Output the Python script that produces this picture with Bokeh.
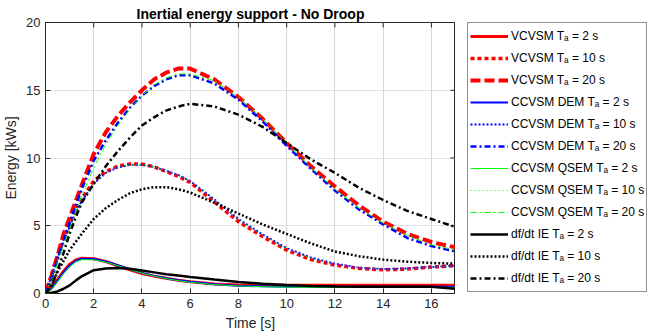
import math
from bokeh.plotting import figure
from bokeh.layouts import row
from bokeh.models import Range1d, Legend, LegendItem, FixedTicker
from bokeh.embed import file_html
from bokeh.resources import INLINE

# ---- data ----
t = [0, 0.25, 0.5, 0.75, 1, 1.25, 1.5, 2, 2.5, 3, 3.5, 4, 4.5, 5, 5.5, 6,
     7, 8, 9, 10, 11, 12, 13, 14, 15, 16, 17]

vcvsm_2 = [0, 0.45, 1.05, 1.65, 2.15, 2.47, 2.61, 2.56, 2.36, 2.05, 1.75, 1.48, 1.28, 1.12, 0.98, 0.86,
           0.7, 0.63, 0.6, 0.6, 0.6, 0.6, 0.6, 0.6, 0.6, 0.6, 0.6]
vcvsm_10 = [0, 1.4, 2.8, 4.0, 5.1, 6.2, 7.0, 8.3, 9.0, 9.4, 9.55, 9.55, 9.35, 9.0, 8.65, 8.2,
            6.75, 5.3, 4.2, 3.2, 2.5, 2.1, 1.85, 1.75, 1.8, 1.95, 2.05]
vcvsm_20 = [0, 1.3, 2.8, 4.4, 5.6, 6.8, 8.0, 10.3, 11.9, 13.1, 14.1, 15.0, 15.8, 16.3, 16.6, 16.6,
            15.8, 14.5, 12.9, 11.1, 9.4, 7.9, 6.5, 5.3, 4.4, 3.8, 3.4]

dem_2 = [0, 0.35, 0.95, 1.55, 2.05, 2.4, 2.56, 2.54, 2.36, 2.08, 1.78, 1.52, 1.3, 1.13, 0.98, 0.86,
         0.68, 0.58, 0.53, 0.5, 0.5, 0.5, 0.5, 0.5, 0.5, 0.5, 0.5]
dem_10 = [0, 1.3, 2.6, 3.8, 4.9, 6.0, 6.8, 8.1, 8.9, 9.3, 9.5, 9.5, 9.35, 9.05, 8.75, 8.3,
          6.95, 5.5, 4.35, 3.35, 2.65, 2.2, 1.9, 1.8, 1.85, 1.95, 2.05]
dem_20 = [0, 1.0, 2.6, 3.9, 5.2, 6.5, 7.7, 9.8, 11.3, 12.6, 13.7, 14.6, 15.3, 15.8, 16.1, 16.1,
          15.5, 14.3, 12.7, 10.9, 9.2, 7.6, 6.2, 5.1, 4.1, 3.5, 3.1]

qsem_2 = [0, 0.3, 0.9, 1.48, 1.98, 2.33, 2.5, 2.49, 2.32, 2.05, 1.76, 1.5, 1.28, 1.1, 0.95, 0.83,
          0.66, 0.56, 0.5, 0.47, 0.46, 0.46, 0.46, 0.46, 0.46, 0.46, 0.46]
qsem_10 = [0, 1.2, 2.5, 3.7, 4.8, 5.9, 6.7, 8.0, 8.85, 9.3, 9.5, 9.5, 9.35, 9.05, 8.75, 8.3,
           6.95, 5.5, 4.3, 3.3, 2.6, 2.2, 1.9, 1.8, 1.8, 1.95, 2.05]
qsem_20 = [0, 0.8, 2.2, 3.5, 4.7, 6.0, 7.2, 9.3, 11.0, 12.4, 13.6, 14.6, 15.4, 15.9, 16.2, 16.2,
           15.7, 14.5, 12.9, 11.1, 9.3, 7.7, 6.3, 5.2, 4.3, 3.6, 3.2]

dfdt_2 = [0, 0.05, 0.15, 0.35, 0.6, 0.95, 1.27, 1.72, 1.85, 1.89, 1.83, 1.7, 1.56, 1.42, 1.32, 1.22,
          1.03, 0.85, 0.72, 0.62, 0.56, 0.52, 0.5, 0.5, 0.5, 0.5, 0.35]
dfdt_10 = [0, 0.6, 1.6, 2.4, 3.2, 3.8, 4.4, 5.5, 6.3, 6.9, 7.4, 7.7, 7.85, 7.85, 7.7, 7.45,
           6.7, 5.9, 5.1, 4.4, 3.7, 3.1, 2.75, 2.5, 2.35, 2.25, 2.2]
dfdt_20 = [0, 0.6, 1.7, 3.0, 4.4, 5.6, 6.7, 8.1, 9.4, 10.5, 11.5, 12.4, 13.0, 13.5, 13.8, 14.0,
           13.8, 13.2, 12.3, 11.1, 9.9, 8.9, 7.8, 6.9, 6.1, 5.5, 4.9]

x_ticks = [0, 2, 4, 6, 8, 10, 12, 14, 16]
y_ticks = [0, 5, 10, 15, 20]
x_max = 17
y_max = 20

labels = [
    "VCVSM T\u2090 = 2 s", "VCVSM T\u2090 = 10 s", "VCVSM T\u2090 = 20 s",
    "CCVSM DEM T\u2090 = 2 s", "CCVSM DEM T\u2090 = 10 s", "CCVSM DEM T\u2090 = 20 s",
    "CCVSM QSEM T\u2090 = 2 s", "CCVSM QSEM T\u2090 = 10 s", "CCVSM QSEM T\u2090 = 20 s",
    "df/dt IE T\u2090 = 2 s", "df/dt IE T\u2090 = 10 s", "df/dt IE T\u2090 = 20 s",
]
series = [vcvsm_2, vcvsm_10, vcvsm_20, dem_2, dem_10, dem_20,
          qsem_2, qsem_10, qsem_20, dfdt_2, dfdt_10, dfdt_20]

styles = [
    ("#ff0000", 3.0, "solid"), ("#ff0000", 3.5, "4 3"), ("#ff0000", 4.0, "10 4"),
    ("#0000ff", 2.0, "solid"), ("#0000ff", 2.0, "2 2"), ("#0000ff", 2.5, "6 3 2 3"),
    ("#00ff00", 1.0, "solid"), ("#00ff00", 1.0, "1 3"), ("#00ff00", 1.0, "6 3 2 3"),
    ("#000000", 2.5, "solid"), ("#000000", 2.5, "2 2"), ("#000000", 2.5, "6 3 2 3"),
]

FONT = "Liberation Sans"
TXT = "#262626"

p = figure(width=455, height=336, output_backend="svg", toolbar_location=None,
           x_range=Range1d(0, x_max), y_range=Range1d(0, y_max),
           title="Inertial energy support - No Droop")
p.min_border_left = 44
p.min_border_right = 0
p.min_border_top = 22
p.min_border_bottom = 43
p.background_fill_color = "white"
p.border_fill_color = "white"
p.outline_line_color = "#262626"
p.outline_line_width = 1

p.title.text_font = FONT
p.title.text_font_size = "14px"
p.title.text_font_style = "bold"
p.title.align = "center"
p.title.text_color = "#000000"
p.title.standoff = 1
p.title.offset = 0

xt = FixedTicker(ticks=x_ticks)
yt = FixedTicker(ticks=y_ticks)
p.xaxis.ticker = xt
p.yaxis.ticker = yt
p.xaxis.axis_label = "Time [s]"
p.yaxis.axis_label = "Energy [kWs]"
for ax in list(p.xaxis) + list(p.yaxis):
    ax.axis_line_color = "#262626"
    ax.major_tick_in = 5
    ax.major_tick_out = 0
    ax.minor_tick_line_color = None
    ax.major_tick_line_color = "#262626"
    ax.major_label_text_font = FONT
    ax.major_label_text_font_size = "13px"
    ax.major_label_text_color = TXT
    ax.axis_label_text_font = FONT
    ax.axis_label_text_font_size = "14px"
    ax.axis_label_text_font_style = "normal"
    ax.axis_label_text_color = TXT
    ax.major_label_standoff = 5
    ax.axis_label_standoff = 4

p.xgrid.ticker = xt
p.ygrid.ticker = yt
p.xgrid.grid_line_color = "#d6d6d6"
p.ygrid.grid_line_color = "#e0e0e0"

# mirrored inward ticks on the top and right edges (clipped to the frame)
p.scatter(x=x_ticks, y=[y_max] * len(x_ticks), marker="dash", size=10,
          angle=math.pi / 2, line_color="#262626", line_width=1)
p.scatter(x=[x_max] * len(y_ticks), y=y_ticks, marker="dash", size=10,
          line_color="#262626", line_width=1)

for ys, (c, w, d) in zip(series, styles):
    p.line(t, ys, line_color=c, line_width=w, line_dash=d)

# legend panel (separate figure to the right of the axes)
lf = figure(width=195, height=336, output_backend="svg", toolbar_location=None,
            x_range=Range1d(0, 1), y_range=Range1d(0, 1),
            x_axis_location=None, y_axis_location=None)
lf.min_border_left = 12
lf.min_border_top = 19
lf.min_border_right = 0
lf.min_border_bottom = 0
lf.outline_line_color = None
lf.grid.visible = False
lf.background_fill_color = "white"
lf.border_fill_color = "white"

items = []
for lab, (c, w, d) in zip(labels, styles):
    r = lf.line([math.nan, math.nan], [math.nan, math.nan],
                line_color=c, line_width=w, line_dash=d)
    items.append(LegendItem(label=lab, renderers=[r]))

legend = Legend(items=items, location="top_left", margin=0, padding=2,
                spacing=0, glyph_height=22, label_height=22, glyph_width=38,
                label_standoff=3, label_text_font=FONT, label_text_font_size="12px",
                label_text_color="#000000", border_line_color="#262626",
                border_line_width=1, background_fill_color="white",
                background_fill_alpha=1.0)
lf.add_layout(legend, "center")

layout = row(p, lf)
open("out.html", "w").write(file_html(layout, INLINE))
